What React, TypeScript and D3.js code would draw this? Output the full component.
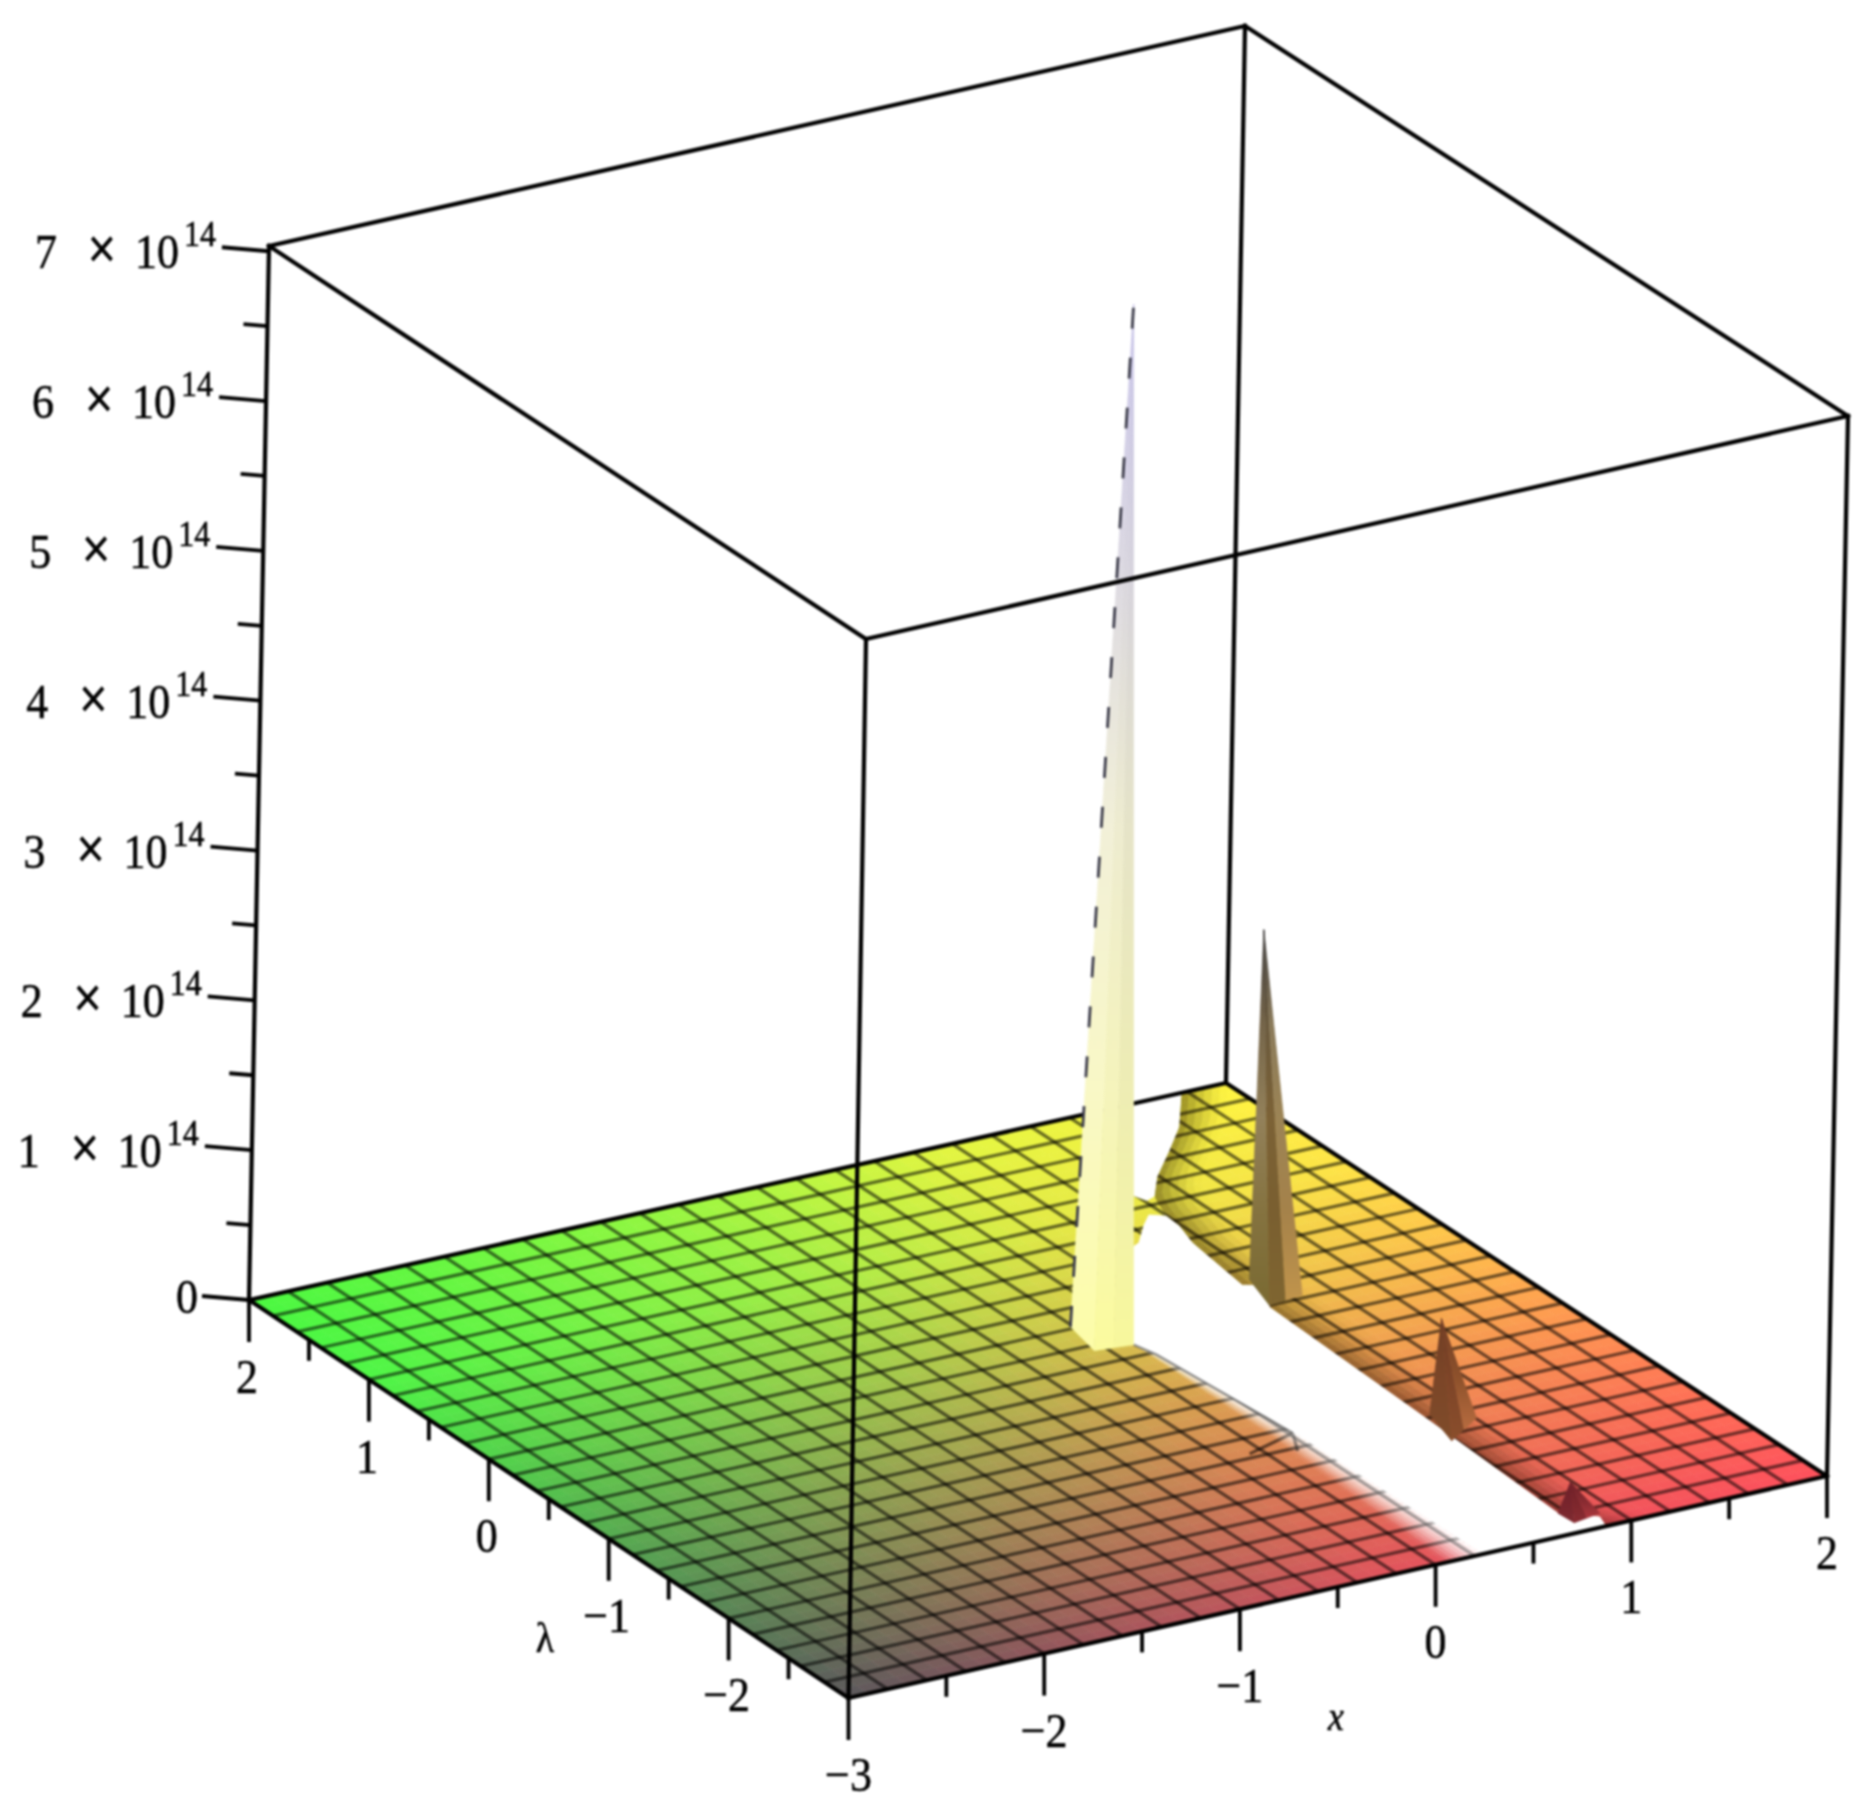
import React, { useMemo } from "react";
import * as d3 from "d3";

const WIDTH = 1866;
const HEIGHT = 1819;

// ---- axis data
const xMajor = [-3, -2, -1, 0, 1, 2];
const xMinor = [-2.5, -1.5, -0.5, 0.5, 1.5];
const lambdaMajor = [2, 1, 0, -1, -2];
const lambdaMinor = [1.5, 0.5, -0.5, -1.5, -2.5];
const zMajor = [0, 1, 2, 3, 4, 5, 6, 7];
const zMinor = [0.5, 1.5, 2.5, 3.5, 4.5, 5.5, 6.5];
const zBoxTop = 7.035;
const gridStep = 0.2;

// ---- surface data: region where the surface is undefined, as [x, lambda]
const holeUpper = [
  [1.45, 2], [1.77, 2], [1.56, 1.679], [1.385, 1.476], [1.19, 1.258],
  [1.064, 1.077], [1.014, 1.054], [0.965, 1.208],
];
const holeLower = [
  [0.632, 0.665], [0.682, 0.637], [0.737, 0.669], [0.86, 0.827], [0.936, 0.91],
  [0.995, 0.864], [0.987, 0.743], [0.939, 0.556], [0.883, 0.048], [0.974, -0.003],
  [0.859, -0.216], [0.811, -1.596], [0.763, -2.775], [0.9, -2.9], [0.87, -3],
  [0.244, -3], [0.228, -1.47], [0.154, -0.425], [0.124, -0.283], [0.087, -0.225],
];
const rightEdgeLambda = [-3, -2.775, -1.596, -0.216, 0.048, 0.556, 0.743, 0.864, 1.077, 1.258, 1.476, 1.679, 2];
const rightEdgeX = [0.87, 0.763, 0.811, 0.859, 0.883, 0.939, 0.987, 0.995, 1.064, 1.19, 1.385, 1.56, 1.77];
const leftEdgeLambda = [-3, -1.47, -0.425, 0];
const leftEdgeX = [0.244, 0.228, 0.154, 0.13];
const fadeLambda = [-3, -1.5, -0.4];
const fadeWidth = [0.2, 0.12, 0.03];
const edgeTrace = [[0.124, -0.283], [0.154, -0.425], [0.219, -1.454]];
const foldTrace = [[-0.066, -1.559], [0.219, -1.454], [0.134, -1.633]];

// ---- spikes: apex [x, lambda, z in 1e14], then base corners [x, lambda]
const tallApex = [0.14, -0.1, 6.82];
const tallBase = [[-0.013, 0.02], [-0.06, -0.256], [0.124, -0.283]];
const secondApex = [0.98, 0.08, 2.32];
const secondBase = [[0.944, 0.089], [0.871, -0.197], [1.054, -0.174]];
const thirdApex = [0.905, -1.56, 0.615];
const thirdBase = [[0.849, -1.567], [0.778, -1.866], [1.005, -1.704]];
const fourthApex = [0.855, -2.726, 0.154];
const fourthBase = [[0.763, -2.775], [0.77, -2.9], [0.923, -2.864]];

// ---- colour ramps read along the floor edges
const redFrontX = [-3, -2, -1.5, -0.8, -0.2, 2];
const redFront = [92, 145, 170, 197, 225, 255];
const redBackX = [-3, -2, -1, -0.5, 0.5, 2];
const redBack = [75, 105, 145, 170, 225, 255];
const greenLambda = [-3, -2, -1, 0, 1, 2];
const greenLeft = [88, 130, 170, 210, 245, 248];
const greenRight = [80, 112, 150, 192, 228, 245];

// ---- scales: the view box is mapped from its eight corners
const uScale = d3.scaleLinear().domain([-3, 2]).range([0, 1]);
const vScale = d3.scaleLinear().domain([-3, 2]).range([0, 1]);
const zScale = d3.scaleLinear().domain([0, zBoxTop]).range([0, 1]);
const cornerH = [848.5, 1698], cornerG = [1827, 1476], cornerE = [249, 1300], cornerF = [1226, 1083];
const cornerD = [866, 639], cornerC = [1848, 416], cornerA = [269, 246], cornerB = [1245, 26];

const P = (x: number, l: number, z = 0): [number, number] => {
  const u = uScale(x), v = vScale(l), w = zScale(z);
  const f = (i: number) => {
    const bottom =
      cornerH[i] * (1 - u) * (1 - v) + cornerG[i] * u * (1 - v) + cornerE[i] * (1 - u) * v + cornerF[i] * u * v;
    const top =
      cornerD[i] * (1 - u) * (1 - v) + cornerC[i] * u * (1 - v) + cornerA[i] * (1 - u) * v + cornerB[i] * u * v;
    return bottom + (top - bottom) * w;
  };
  return [f(0), f(1)];
};

const rF = d3.scaleLinear().domain(redFrontX).range(redFront);
const rB = d3.scaleLinear().domain(redBackX).range(redBack);
const gL = d3.scaleLinear().domain(greenLambda).range(greenLeft);
const gR = d3.scaleLinear().domain(greenLambda).range(greenRight);
const blue = d3.scaleLinear().domain([-3, 2]).range([92, 65]);
const surfaceColour = (x: number, l: number) => {
  const u = uScale(x), v = vScale(l);
  const r = rF(x) * (1 - v) + rB(x) * v;
  const g = gL(l) * (1 - u) + gR(l) * u;
  return `rgb(${Math.round(r)},${Math.round(g)},${Math.round(blue(l))})`;
};

const xRight = d3.scaleLinear().domain(rightEdgeLambda).range(rightEdgeX);
const xLeft = d3.scaleLinear().domain(leftEdgeLambda).range(leftEdgeX);
const fade = d3.scaleLinear().domain(fadeLambda).range(fadeWidth).clamp(true);

const closed = d3.line().curve(d3.curveLinearClosed);
const open = d3.line();

const FONT = "'Liberation Serif','Times New Roman',serif";
const FRAME = 4.2;
const MESH = { stroke: "#000", strokeOpacity: 0.56, strokeWidth: 3.3, fill: "none" };

function Num({ x, y, size = 44, anchor = "middle", italic = false, weight = 0.5, children }: any) {
  return (
    <text
      transform={`translate(${x},${y}) scale(1,1.12)`}
      fontFamily={FONT}
      fontSize={size}
      fontStyle={italic ? "italic" : "normal"}
      textAnchor={anchor}
      fill="#000"
      stroke="#000"
      strokeWidth={weight}
    >
      {children}
    </text>
  );
}

function Spike({ id, apex, base, stopsL, stopsR, stopsM }: any) {
  const top = P(apex[0], apex[1], apex[2]);
  const corners = base.map((b: number[]) => P(b[0], b[1]));
  const bottom = d3.max(corners, (c: number[]) => c[1]) as number;
  const grad = (name: string, stops: string[]) => (
    <linearGradient id={`${id}${name}`} gradientUnits="userSpaceOnUse" x1={0} x2={0} y1={bottom} y2={top[1]}>
      {stops.map((c, i) => (
        <stop key={i} offset={i / (stops.length - 1)} stopColor={c} />
      ))}
    </linearGradient>
  );
  const mid = [(corners[1][0] + corners[2][0]) / 2, (corners[1][1] + corners[2][1]) / 2];
  return (
    <g>
      <defs>
        {grad("L", stopsL)}
        {grad("M", stopsM)}
        {grad("R", stopsR)}
      </defs>
      <path d={closed([corners[0], corners[1], top]) as string} fill={`url(#${id}L)`} stroke={`url(#${id}L)`} strokeWidth={0.6} />
      <path d={closed([corners[1], mid, top]) as string} fill={`url(#${id}M)`} stroke={`url(#${id}M)`} strokeWidth={0.6} />
      <path d={closed([mid, corners[2], top]) as string} fill={`url(#${id}R)`} stroke={`url(#${id}R)`} strokeWidth={0.6} />
    </g>
  );
}

export default function App() {
  const cells = useMemo(() => {
    const out: { d: string; c: string }[] = [];
    const step = gridStep / 2;
    const xs = d3.range(0, 50).map((i) => -3 + i * step);
    const ls = d3.range(0, 50).map((i) => -3 + i * step);
    for (const x of xs) {
      for (const l of ls) {
        const c = surfaceColour(x + step / 2, l + step / 2);
        out.push({
          d: closed([P(x, l), P(x + step, l), P(x + step, l + step), P(x, l + step)]) as string,
          c,
        });
      }
    }
    return out;
  }, []);

  const overlays = useMemo(() => {
    const white: { d: string; o: number }[] = [];
    const dark: { d: string; o: number }[] = [];
    const ls = d3.range(-3, 2, 0.05);
    for (const l of ls) {
      const l2 = Math.min(l + 0.05, 2);
      if (l < 0) {
        const w = fade(l);
        const n = 8;
        for (let k = 0; k < n; k++) {
          const a = k / n;
          const b = (k + 1) / n;
          white.push({
            d: closed([
              P(xLeft(l) - w * a, l),
              P(xLeft(l) - w * b, l),
              P(xLeft(l2) - fade(l2) * b, l2),
              P(xLeft(l2) - fade(l2) * a, l2),
            ]) as string,
            o: Math.pow(1 - (a + b) / 2, 1.2),
          });
        }
      }
      const n = 6;
      const depth = 0.24;
      for (let k = 0; k < n; k++) {
        const a = (k / n) * depth;
        const b = ((k + 1) / n) * depth;
        dark.push({
          d: closed([P(xRight(l) + a, l), P(xRight(l) + b, l), P(xRight(l2) + b, l2), P(xRight(l2) + a, l2)]) as string,
          o: 0.45 * Math.pow(1 - (k + 0.5) / n, 1.5),
        });
      }
    }
    return { white, dark };
  }, []);

  const gridX = d3.range(1, 25).map((i) => -3 + i * gridStep);

  const seg = (a: [number, number], b: [number, number], w: number, key: string) => (
    <line key={key} x1={a[0]} y1={a[1]} x2={b[0]} y2={b[1]} stroke="#000" strokeWidth={w} strokeLinecap="square" />
  );

  const E = P(-3, 2), F = P(2, 2), G = P(2, -3), H = P(-3, -3);
  const A = P(-3, 2, zBoxTop), B = P(2, 2, zBoxTop), C = P(2, -3, zBoxTop), D = P(-3, -3, zBoxTop);

  const tick = (p: [number, number], dx: number, dy: number, key: string) => (
    <line key={key} x1={p[0]} y1={p[1]} x2={p[0] + dx} y2={p[1] + dy} stroke="#000" strokeWidth={3.8} />
  );

  const tallTop = P(tallApex[0], tallApex[1], tallApex[2]);
  const tallLeft = P(tallBase[0][0], tallBase[0][1]);

  return (
    <svg
      width={WIDTH}
      height={HEIGHT}
      viewBox={`0 0 ${WIDTH} ${HEIGHT}`}
      style={{ position: "absolute", left: 0, top: 0, display: "block", background: "#fff" }}
    >
      <defs>
        <filter id="soft" x="0" y="0" width={WIDTH} height={HEIGHT} colorInterpolationFilters="sRGB" filterUnits="userSpaceOnUse">
          <feGaussianBlur stdDeviation={1.2} />
        </filter>
      </defs>
      <rect width={WIDTH} height={HEIGHT} fill="#fff" />
      <g filter="url(#soft)">
        {/* surface */}
        <g>
          {cells.map((c, i) => (
            <path key={i} d={c.d} fill={c.c} stroke={c.c} strokeWidth={0.6} />
          ))}
        </g>
        <g>
          {overlays.white.map((o, i) => (
            <path key={i} d={o.d} fill="#fff" fillOpacity={o.o} />
          ))}
        </g>
        {/* mesh */}
        <g {...MESH}>
          {gridX.map((x) => (
            <path key={`gx${x}`} d={open([P(x, -3), P(x, 2)]) as string} />
          ))}
          {gridX.map((l) => (
            <path key={`gl${l}`} d={open([P(-3, l), P(2, l)]) as string} />
          ))}
          <path d={open(foldTrace.map((p) => P(p[0], p[1]))) as string} />
        </g>
        {/* shading next to the undefined band */}
        <g>
          {overlays.dark.map((o, i) => (
            <path key={i} d={o.d} fill="#201000" fillOpacity={o.o} />
          ))}
        </g>
        <g>
          {overlays.white.map((o, i) => (
            <path key={i} d={o.d} fill="#fff" fillOpacity={o.o * 0.55} />
          ))}
        </g>
        {/* undefined band */}
        <path d={closed(holeUpper.map((p) => P(p[0], p[1]))) as string} fill="#fff" stroke="#fff" />
        <path d={closed(holeLower.map((p) => P(p[0], p[1]))) as string} fill="#fff" stroke="#fff" />
        <path d={open(edgeTrace.map((p) => P(p[0], p[1]))) as string} fill="none" stroke="#333" strokeOpacity={0.5} strokeWidth={2.6} />

        {/* back box edges */}
        {seg(F, B, FRAME, "fb")}
        {seg(A, B, FRAME, "ab")}
        {seg(B, C, FRAME, "bc")}
        {seg(E, F, FRAME, "ef")}
        {seg(F, G, FRAME, "fg")}

        {/* spikes */}
        <Spike
          id="s1"
          apex={tallApex}
          base={tallBase}
          stopsL={["#fdfda8", "#f9f8c6", "#f2f0d8", "#dcd9e2", "#c9c5ea"]}
          stopsM={["#fbfb9e", "#f5f4bc", "#eeecd0", "#d9d6df", "#c6c2e8"]}
          stopsR={["#f8f89c", "#eeedb4", "#e6e4c8", "#d6d3dd", "#c5c1e8"]}
        />
        <path
          d={open([tallLeft, tallTop]) as string}
          stroke="#3c3c4a"
          strokeWidth={2.8}
          strokeDasharray="21 29"
          fill="none"
        />
        <Spike
          id="s2"
          apex={secondApex}
          base={secondBase}
          stopsL={["#7a6a32", "#857340", "#93815a", "#75654a", "#3e3c3c"]}
          stopsM={["#7f6530", "#7a5f30", "#7c6236", "#6a5a3e", "#3e3c3c"]}
          stopsR={["#c2954c", "#a5824a", "#9c8455", "#8a7a5a", "#3e3c3c"]}
        />
        <Spike
          id="s3"
          apex={thirdApex}
          base={thirdBase}
          stopsL={["#7f4c2a", "#7c4628", "#703e24"]}
          stopsM={["#8a4e2c", "#7e4528", "#703c24"]}
          stopsR={["#c07244", "#8f522c", "#703c24"]}
        />
        <Spike
          id="s4"
          apex={fourthApex}
          base={fourthBase}
          stopsL={["#7d2a30", "#77242c", "#6e2028"]}
          stopsM={["#8a2c32", "#7c262c", "#6e2028"]}
          stopsR={["#b53a40", "#8a2c32", "#6e2028"]}
        />

        {/* front box edges */}
        {seg(E, A, FRAME, "ea")}
        {seg(H, D, FRAME, "hd")}
        {seg(G, C, FRAME, "gc")}
        {seg(A, D, FRAME, "ad")}
        {seg(D, C, FRAME, "dc")}
        {seg(E, H, FRAME, "eh")}
        {seg(H, G, FRAME, "hg")}

        {/* x axis */}
        {xMajor.map((x) => tick(P(x, -3), 0, 42, `xM${x}`))}
        {xMinor.map((x) => tick(P(x, -3), 0, 21, `xm${x}`))}
        {xMajor.map((x) => {
          const p = P(x, -3);
          return (
            <Num key={`xl${x}`} x={p[0]} y={p[1] + 93}>
              {x < 0 ? `\u2212${-x}` : `${x}`}
            </Num>
          );
        })}
        <Num x={1336} y={1730} size={36} italic>
          x
        </Num>

        {/* lambda axis */}
        {lambdaMajor.map((l) => tick(P(-3, l), 0, 42, `lM${l}`))}
        {lambdaMinor.map((l) => tick(P(-3, l), 0, 21, `lm${l}`))}
        {lambdaMajor.map((l) => {
          const p = P(-3, l);
          return (
            <Num key={`ll${l}`} x={p[0] - 2} y={p[1] + 93}>
              {l < 0 ? `\u2212${-l}` : `${l}`}
            </Num>
          );
        })}
        <Num x={545} y={1652} size={38}>
          λ
        </Num>

        {/* z axis */}
        {zMajor.map((z) => tick(P(-3, 2, z), -47, -4, `zM${z}`))}
        {zMinor.map((z) => tick(P(-3, 2, z), -24, -2, `zm${z}`))}
        {zMajor.map((z) => {
          const p = P(-3, 2, z);
          const tx = p[0] - 47;
          const ty = p[1] - 4;
          if (z === 0)
            return (
              <Num key="z0" x={tx - 4} y={ty + 17} anchor="end">
                0
              </Num>
            );
          return (
            <g key={`zl${z}`}>
              <Num x={tx - 187} y={ty + 21} anchor="start">
                {z}
              </Num>
              <Num x={tx - 120} y={ty + 21} size={50} weight={1.2}>
                ×
              </Num>
              <Num x={tx - 87} y={ty + 21} anchor="start">
                10
              </Num>
              <Num x={tx - 38} y={ty - 1} size={32} anchor="start">
                14
              </Num>
            </g>
          );
        })}
      </g>
    </svg>
  );
}
